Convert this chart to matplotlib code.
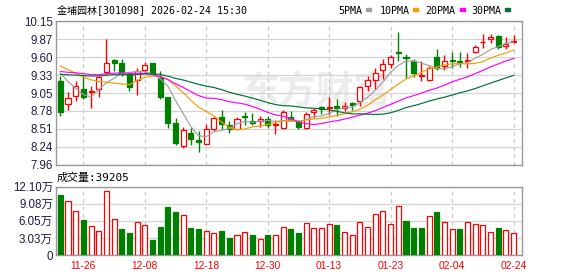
import numpy as np
import pandas as pd
import matplotlib
matplotlib.use("Agg")
import matplotlib.pyplot as plt
from matplotlib.patches import Rectangle

plt.rcParams['font.family'] = ['Liberation Sans', 'Noto Sans CJK SC', 'DejaVu Sans']

# --- data ---
title = "金埔园林[301098] 2026-02-24 15:30"
last_vol_text = "成交量:39205"

open_ = [9.24, 8.89, 9.01, 9.12, 9.07, 9.11, 9.37, 9.56, 9.52, 9.35,
         9.25, 9.40, 9.52, 9.29, 9.00, 8.60, 8.24, 8.45, 8.33, 8.28,
         8.51, 8.69, 8.57, 8.51, 8.70, 8.63, 8.63, 8.66, 8.56, 8.52,
         8.69, 8.62, 8.52, 8.76, 8.84, 8.83, 8.86, 8.83, 8.90, 8.93,
         9.16, 9.26, 9.40, 9.50, 9.68, 9.61, 9.55, 9.31, 9.25, 9.61,
         9.46, 9.56, 9.54, 9.54, 9.68, 9.83, 9.88, 9.93, 9.77, 9.84]
high = [9.31, 9.07, 9.24, 9.33, 9.16, 9.31, 9.88, 9.58, 9.58, 9.37,
        9.44, 9.53, 9.52, 9.39, 9.00, 8.68, 8.53, 8.52, 8.47, 8.58,
        8.69, 8.80, 8.62, 8.69, 8.76, 8.75, 8.70, 8.70, 8.65, 8.79,
        8.78, 8.64, 8.76, 8.82, 8.86, 8.99, 8.97, 8.91, 8.92, 9.16,
        9.31, 9.44, 9.57, 9.63, 9.99, 9.65, 9.58, 9.55, 9.47, 9.73,
        9.63, 9.68, 9.68, 9.67, 9.79, 9.96, 9.96, 9.94, 9.91, 9.94]
low = [8.70, 8.79, 8.94, 8.96, 8.83, 8.99, 9.33, 9.39, 9.31, 9.09,
       9.02, 9.36, 9.34, 8.97, 8.52, 8.26, 8.21, 8.26, 8.15, 8.27,
       8.47, 8.51, 8.44, 8.50, 8.56, 8.57, 8.54, 8.52, 8.43, 8.51,
       8.62, 8.50, 8.50, 8.68, 8.73, 8.72, 8.70, 8.78, 8.79, 8.86,
       9.08, 9.11, 9.27, 9.43, 9.54, 9.29, 9.30, 9.24, 9.24, 9.41,
       9.41, 9.44, 9.45, 9.44, 9.67, 9.74, 9.82, 9.73, 9.73, 9.82]
close = [8.76, 8.98, 9.16, 8.99, 9.09, 9.30, 9.51, 9.52, 9.36, 9.15,
         9.39, 9.48, 9.35, 8.99, 8.59, 8.29, 8.49, 8.35, 8.30, 8.51,
         8.67, 8.58, 8.51, 8.66, 8.69, 8.60, 8.66, 8.57, 8.58, 8.76,
         8.64, 8.53, 8.74, 8.80, 8.81, 8.84, 8.83, 8.86, 8.87, 9.14,
         9.25, 9.36, 9.50, 9.61, 9.66, 9.59, 9.36, 9.33, 9.44, 9.43,
         9.54, 9.55, 9.53, 9.56, 9.75, 9.84, 9.91, 9.76, 9.80, 9.85]
# closes before the visible window, only used to warm up the moving averages
prior_close = [9.20, 9.28, 9.22, 9.30, 9.25, 9.18, 9.27, 9.32, 9.26, 9.26,
               9.22, 9.30, 9.27, 9.35, 9.31, 9.26, 9.33, 9.29, 9.32, 9.31,
               9.58, 9.68, 9.60, 9.50, 9.555, 9.615, 9.66, 9.49, 9.26]
volume = [106300, 95600, 77900, 62000, 51400, 42500, 113300, 63800, 46000, 39000,
          58400, 53100, 26600, 49600, 85000, 76200, 70800, 48400, 46000, 42500,
          39000, 42500, 30000, 35400, 40700, 35400, 28300, 35400, 35400, 49600,
          46000, 39000, 56700, 47800, 47800, 54900, 53100, 40700, 35400, 58400,
          49600, 72600, 77900, 54900, 86800, 60200, 47800, 47800, 69000, 76200,
          58400, 46000, 46000, 58400, 54900, 53100, 40700, 47800, 44300, 39205]

ma_periods = [5, 10, 20, 30]
ma_names = ["5PMA", "10PMA", "20PMA", "30PMA"]
ma_colors = ["#a0a0a0", "#f0a000", "#ff00ff", "#006f3a"]

price_ticks = ["7.96", "8.24", "8.51", "8.78", "9.05", "9.33", "9.60", "9.87", "10.15"]
vol_ticks = ["0", "3.03万", "6.05万", "9.08万", "12.10万"]
tick_dates = ["11-26", "12-08", "12-18", "12-30", "01-13", "01-23", "02-04", "02-24"]

holidays = pd.to_datetime(["2026-01-01", "2026-01-02", "2026-02-16", "2026-02-17",
                           "2026-02-18", "2026-02-19", "2026-02-20", "2026-02-23"])
dates = pd.bdate_range("2025-11-21", "2026-02-24")
dates = dates[~dates.isin(holidays)]
date_labels = list(dates.strftime("%m-%d"))

RED = "#ff0000"
GREEN = "#008000"
GRID = "#d4d4d4"
FRAME = "#999999"
NAVY = "#1c1c44"

# --- derived ---
o = np.array(open_)
h = np.array(high)
l = np.array(low)
c = np.array(close)
v = np.array(volume) / 1e4
x = np.arange(len(c))
up = c >= o
prev_c = np.concatenate([[prior_close[-1]], c[:-1]])
vol_up = c >= prev_c
all_c = pd.Series(np.concatenate([prior_close, c]))
tick_idx = [date_labels.index(d) for d in tick_dates]

W, H = 578, 276
fig = plt.figure(figsize=(W / 100, H / 100), dpi=100)
ax = fig.add_axes([55.7 / W, 1 - 164.7 / H, (522 - 55.7) / W, (164.7 - 21.3) / H])
axv = fig.add_axes([55.7 / W, 1 - 255 / H, (522 - 55.7) / W, (255 - 186.7) / H])

# watermark
ax.text(0.56, 0.50, "东方财富", transform=ax.transAxes, fontsize=27, fontweight='bold',
        color='#ececec', ha='center', va='center', zorder=0)

# candles
cols = np.where(up, RED, GREEN)
ax.vlines(x, l, h, colors=cols, lw=1.0, zorder=2)
ax.bar(x, np.maximum(np.abs(c - o), 0.006), width=0.66, bottom=np.minimum(o, c),
       color=np.where(up, "white", GREEN), edgecolor=cols, linewidth=0.9, zorder=3)

# moving averages
for n, col in zip(ma_periods, ma_colors):
    ma = all_c.rolling(n).mean().to_numpy()[-len(c):]
    ax.plot(x, ma, color=col, lw=0.85, zorder=4)

ymin, ymax = float(price_ticks[0]), float(price_ticks[-1])
ax.set_ylim(ymin, ymax)
ax.set_yticks(np.linspace(ymin, ymax, len(price_ticks)))
ax.set_yticklabels(price_ticks)
ax.set_xlim(-0.6, 60.1)
ax.set_xticks(tick_idx)
ax.set_xticklabels([])

# volume
vcols = np.where(vol_up, RED, GREEN)
axv.bar(x, v, width=0.66, color=np.where(vol_up, "white", GREEN),
        edgecolor=vcols, linewidth=0.9, zorder=3)
vmax = float(vol_ticks[-1].rstrip("万"))
axv.set_ylim(0, vmax)
axv.set_yticks(np.linspace(0, vmax, len(vol_ticks)))
axv.set_yticklabels(vol_ticks)
axv.set_xlim(-0.6, 60.1)
axv.set_xticks(tick_idx)
axv.set_xticklabels(tick_dates)

for a in (ax, axv):
    a.grid(axis='y', color=GRID, lw=0.9, zorder=1)
    a.grid(axis='x', color='#c8c8c8', lw=0.9, linestyle=(0, (3, 3)), zorder=1)
    a.set_axisbelow(True)
    for s in a.spines.values():
        s.set_color(FRAME)
        s.set_linewidth(1.0)
    a.tick_params(length=0, pad=2)
    for t in a.get_yticklabels():
        t.set_fontsize(8.3)
        t.set_color(NAVY)

for t in axv.get_xticklabels():
    t.set_fontsize(7.4)
    t.set_color(RED)
axv.tick_params(axis='x', pad=4)

# header texts
mono = ['DejaVu Sans Mono', 'Noto Sans CJK SC']
fig.text(57 / W, 1 - 10.5 / H, title, family=mono, fontsize=7.2, va='center', ha='left')
fig.text(57 / W, 1 - 178 / H, last_vol_text, family=mono, fontsize=7.9, va='center', ha='left')

leg_x = [338.3, 380, 425, 471.7]
sq_x = [366, 413.3, 460, 505]
for name, col, lx, sx in zip(ma_names, ma_colors, leg_x, sq_x):
    fig.text(lx / W, 1 - 10.5 / H, name, family=mono, fontsize=7.2, va='center', ha='left')
    fig.patches.append(Rectangle((sx / W, 1 - 11 / H), 5 / W, 3 / H,
                                 transform=fig.transFigure, color=col, figure=fig))

fig.savefig("out.png", dpi=100)
